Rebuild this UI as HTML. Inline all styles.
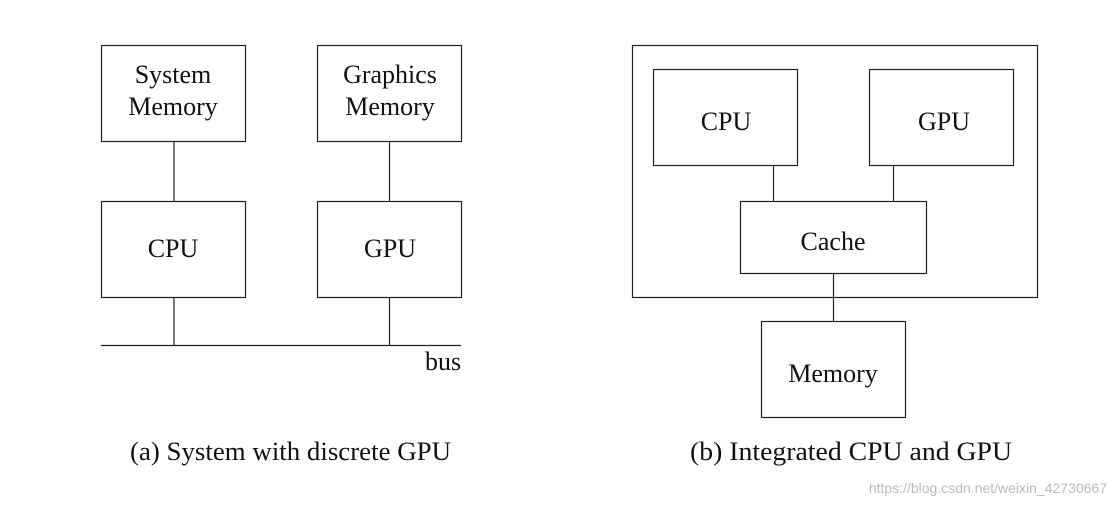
<!DOCTYPE html>
<html><head><meta charset="utf-8"><style>
html,body{margin:0;padding:0;background:#fff;width:1116px;height:505px;overflow:hidden}
svg text{font-family:"Liberation Serif",serif;fill:#111}
</style></head><body>
<svg width="1116" height="505" viewBox="0 0 1116 505" xmlns="http://www.w3.org/2000/svg">
<g fill="none" stroke="#222" stroke-width="1.2">
<rect x="101.5" y="45.5" width="144" height="96"/>
<rect x="317.5" y="45.5" width="144" height="96"/>
<rect x="101.5" y="201.5" width="144" height="96"/>
<rect x="317.5" y="201.5" width="144" height="96"/>
<line x1="174" y1="141" x2="174" y2="201"/>
<line x1="389.5" y1="141" x2="389.5" y2="201"/>
<line x1="174" y1="297" x2="174" y2="345"/>
<line x1="389.5" y1="297" x2="389.5" y2="345"/>
<line x1="101" y1="345.5" x2="461" y2="345.5"/>
<rect x="632.5" y="45.5" width="405" height="252"/>
<rect x="653.5" y="69.5" width="144" height="96"/>
<rect x="869.5" y="69.5" width="144" height="96"/>
<rect x="740.5" y="201.5" width="186" height="72"/>
<rect x="761.5" y="321.5" width="144" height="96"/>
<line x1="773.5" y1="165" x2="773.5" y2="201"/>
<line x1="893.5" y1="165" x2="893.5" y2="201"/>
<line x1="833.5" y1="273" x2="833.5" y2="321"/>
</g>
<g font-size="26" text-anchor="middle">
<text x="173" y="83">System</text>
<text x="173" y="115">Memory</text>
<text x="390" y="83">Graphics</text>
<text x="390" y="115">Memory</text>
<text x="173" y="257">CPU</text>
<text x="390" y="257">GPU</text>
<text x="443" y="370">bus</text>
<text x="726" y="130">CPU</text>
<text x="944" y="130">GPU</text>
<text x="833" y="250">Cache</text>
<text x="833" y="382">Memory</text>
<text x="290.5" y="460" textLength="321" lengthAdjust="spacingAndGlyphs">(a) System with discrete GPU</text>
<text x="851" y="460" textLength="322" lengthAdjust="spacingAndGlyphs">(b) Integrated CPU and GPU</text>
</g>
<text x="1107" y="493" font-size="14" text-anchor="end" style="fill:#bbb;font-family:'Liberation Sans',sans-serif">https://blog.csdn.net/weixin_42730667</text>
</svg>
</body></html>
